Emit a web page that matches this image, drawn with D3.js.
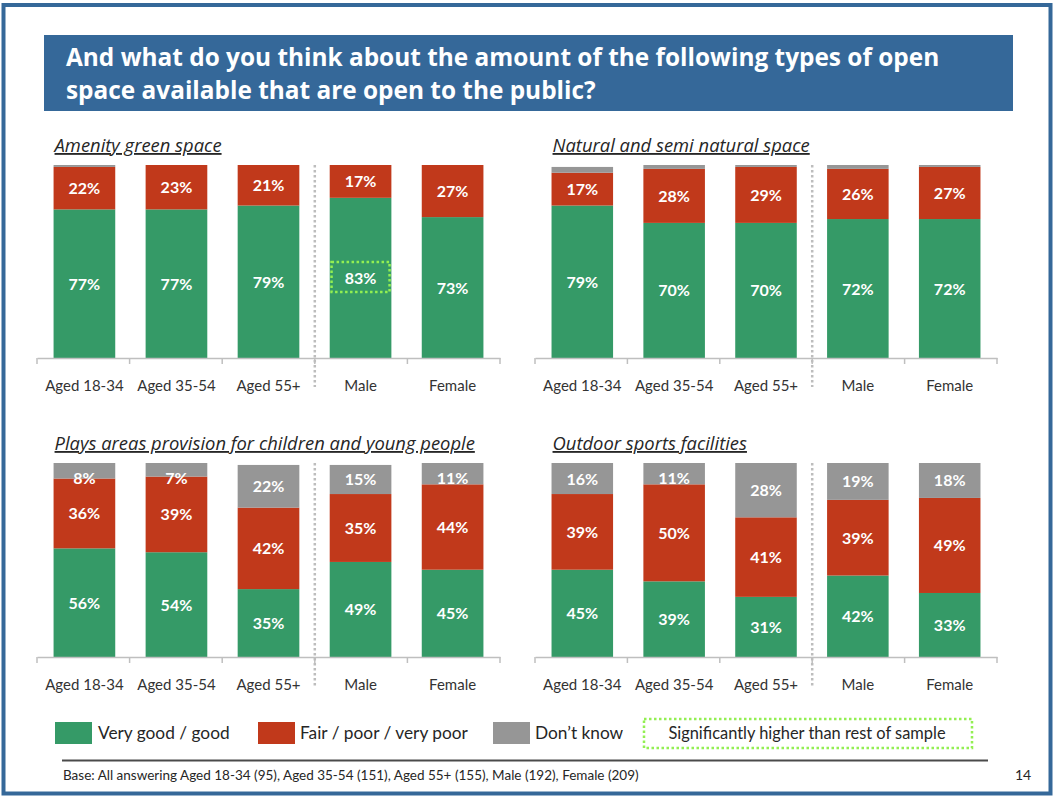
<!DOCTYPE html>
<html>
<head>
<meta charset="utf-8">
<script src="https://cdn.jsdelivr.net/npm/d3@7"></script>
<style>
  body { margin: 0; background: #fff; }
  svg { display: block; font-family: Lato, "Open Sans", sans-serif; }
</style>
</head>
<body>
<svg id="chart" width="1054" height="796"></svg>
<script>
// ---- data ----
const titleLines = [
  "And what do you think about the amount of the following types of open",
  "space available that are open to the public?"
];
const categories = ["Aged 18-34", "Aged 35-54", "Aged 55+", "Male", "Female"];
const seriesNames = ["Very good / good", "Fair / poor / very poor", "Don\u2019t know"];
const panelTitles = [
  "Amenity green space",
  "Natural and semi natural space",
  "Plays areas provision for children and young people",
  "Outdoor sports facilities"
];

const amenityGood = [77, 77, 79, 83, 73];
const amenityFair = [22, 23, 21, 17, 27];
const amenityDontKnow = [1, 0, 0, 0, 0];

const naturalGood = [79, 70, 70, 72, 72];
const naturalFair = [17, 28, 29, 26, 27];
const naturalDontKnow = [3, 2, 1, 2, 1];

const playGood = [56, 54, 35, 49, 45];
const playFair = [36, 39, 42, 35, 44];
const playDontKnow = [8, 7, 22, 15, 11];

const sportsGood = [45, 39, 31, 42, 33];
const sportsFair = [39, 50, 41, 39, 49];
const sportsDontKnow = [16, 11, 28, 19, 18];

// values flagged as significantly higher than the rest of the sample
const significant = [{ panel: 0, category: "Male", series: 0 }];

const significanceNote = "Significantly higher than rest of sample";
const baseNote = "Base: All answering Aged 18-34 (95), Aged 35-54 (151), Aged 55+ (155), Male (192), Female (209)";
const pageNumber = "14";

// ---- styling ----
const colors = ["#359a67", "#c1391b", "#969696"];
const frameBlue = "#356899";
const highlightGreen = "#93ef52";

const panelData = [
  [amenityGood, amenityFair, amenityDontKnow],
  [naturalGood, naturalFair, naturalDontKnow],
  [playGood, playFair, playDontKnow],
  [sportsGood, sportsFair, sportsDontKnow]
];

const panelLayout = [
  { x0: 37, x1: 500, yTop: 165, yBase: 358 },
  { x0: 535, x1: 997, yTop: 165, yBase: 358 },
  { x0: 37, x1: 500, yTop: 463, yBase: 657 },
  { x0: 535, x1: 997, yTop: 463, yBase: 657 }
];

const svg = d3.select("#chart");

// page frame
svg.append("rect")
  .attr("x", 3.5).attr("y", 5).attr("width", 1047).attr("height", 788.5)
  .attr("fill", "none").attr("stroke", frameBlue).attr("stroke-width", 4);

// heading band
svg.append("rect")
  .attr("x", 44).attr("y", 35).attr("width", 969).attr("height", 76)
  .attr("fill", frameBlue);
svg.append("g").selectAll("text").data(titleLines).join("text")
  .attr("x", 66).attr("y", (d, i) => 66 + i * 33)
  .attr("fill", "#fff").attr("font-size", 24.4).attr("font-weight", 700)
  .style("font-family", "'Open Sans', sans-serif")
  .text(d => d);

const stack = d3.stack().keys([0, 1, 2]);

panelData.forEach((series, p) => {
  const L = panelLayout[p];
  const g = svg.append("g");

  const x = d3.scaleBand().domain(categories).range([L.x0, L.x1])
    .paddingInner(0.33).paddingOuter(0.18);
  const y = d3.scaleLinear().domain([0, 100]).range([L.yBase, L.yTop]);

  const rows = categories.map((c, i) => {
    const r = { category: c };
    series.forEach((s, k) => { r[k] = s[i]; });
    return r;
  });
  const layers = stack(rows);

  // panel heading
  g.append("text")
    .attr("x", x(categories[0]) + 1)
    .attr("y", L.yTop - 13)
    .attr("font-size", 18.4).attr("font-style", "italic")
    .style("font-family", "'Open Sans', sans-serif")
    .attr("fill", "#262626")
    .attr("text-decoration", "underline")
    .text(panelTitles[p]);

  // stacked bars
  layers.forEach((layer, k) => {
    g.append("g").selectAll("rect").data(layer).join("rect")
      .attr("x", d => x(d.data.category))
      .attr("width", x.bandwidth())
      .attr("y", d => y(d[1]))
      .attr("height", d => y(d[0]) - y(d[1]))
      .attr("fill", colors[k]);
  });

  // value labels
  layers.forEach((layer, k) => {
    g.append("g").selectAll("text").data(layer.filter(d => d[1] - d[0] >= 5)).join("text")
      .attr("x", d => x(d.data.category) + x.bandwidth() / 2)
      .attr("y", d => Math.max((y(d[0]) + y(d[1])) / 2, L.yTop + 15) + 6)
      .attr("text-anchor", "middle")
      .attr("fill", "#fff").attr("font-size", 16).attr("font-weight", 700)
      .text(d => (d[1] - d[0]) + "%");
  });

  // significance highlight
  significant.filter(s => s.panel === p).forEach(s => {
    const d = layers[s.series].find(e => e.data.category === s.category);
    const cx = x(s.category) + x.bandwidth() / 2;
    const cy = (y(d[0]) + y(d[1])) / 2;
    g.append("rect")
      .attr("x", cx - 29).attr("y", cy - 16).attr("width", 58).attr("height", 30)
      .attr("fill", "none").attr("stroke", highlightGreen)
      .attr("stroke-width", 2.5).attr("stroke-dasharray", "2.5 2.5");
  });

  // category axis with ticks between groups
  const axis = d3.axisBottom(x).tickSize(0).tickPadding(22);
  const ag = g.append("g").attr("transform", `translate(0,${L.yBase})`).call(axis);
  ag.select(".domain").attr("stroke", "#bfbfbf").attr("stroke-width", 1.5);
  ag.selectAll("text").attr("font-size", 15).attr("fill", "#333")
    .style("font-family", "Lato, sans-serif");

  const bounds = d3.range(categories.length + 1).map(i => L.x0 + i * (L.x1 - L.x0) / categories.length);
  g.append("g").selectAll("line").data(bounds).join("line")
    .attr("x1", d => d).attr("x2", d => d)
    .attr("y1", L.yBase).attr("y2", L.yBase + 6)
    .attr("stroke", "#bfbfbf").attr("stroke-width", 1.5);

  // dotted divider between age groups and gender
  const divX = bounds[3];
  g.append("line")
    .attr("x1", divX).attr("x2", divX)
    .attr("y1", L.yTop).attr("y2", L.yBase + 29)
    .attr("stroke", "#bdbdbd").attr("stroke-width", 2.5)
    .attr("stroke-dasharray", "2.5 2.5");
});

// legend
const legendItems = [
  { sx: 55, tx: 98 },
  { sx: 258, tx: 300 },
  { sx: 493, tx: 535 }
];
const leg = svg.append("g");
legendItems.forEach((it, k) => {
  leg.append("rect").attr("x", it.sx).attr("y", 722).attr("width", 37).attr("height", 22)
    .attr("fill", colors[k]);
  leg.append("text").attr("x", it.tx).attr("y", 739)
    .attr("font-size", 17.3).attr("fill", "#262626").text(seriesNames[k]);
});
leg.append("rect").attr("x", 644).attr("y", 719).attr("width", 328).attr("height", 29)
  .attr("fill", "none").attr("stroke", highlightGreen)
  .attr("stroke-width", 2.5).attr("stroke-dasharray", "2.5 2.5");
leg.append("text").attr("x", 807).attr("y", 739).attr("text-anchor", "middle")
  .attr("font-size", 16.4).attr("fill", "#262626").text(significanceNote);

// footer
svg.append("line").attr("x1", 62).attr("x2", 988).attr("y1", 760.5).attr("y2", 760.5)
  .attr("stroke", "#4a4a4a").attr("stroke-width", 2);
svg.append("text").attr("x", 63).attr("y", 780)
  .attr("font-size", 13.5).attr("fill", "#262626").text(baseNote);
svg.append("text").attr("x", 1015).attr("y", 780)
  .attr("font-size", 14).attr("fill", "#262626").text(pageNumber);
</script>
</body>
</html>
